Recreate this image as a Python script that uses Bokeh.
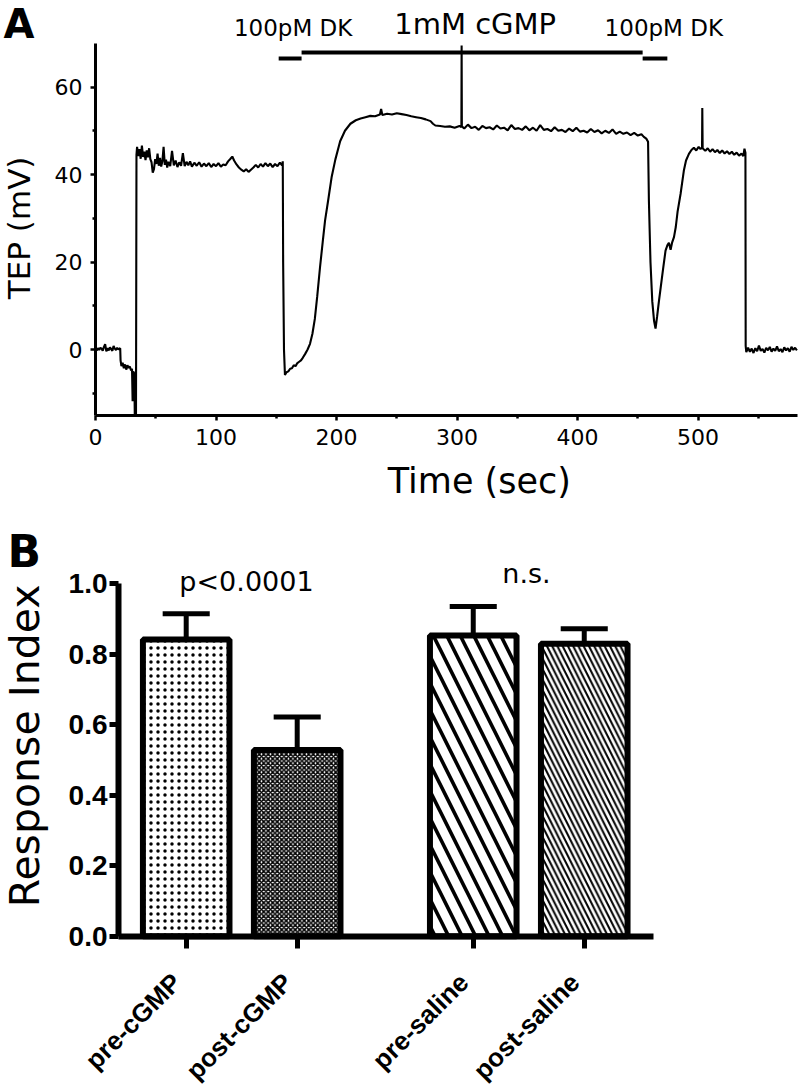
import math
from bokeh.plotting import figure
from bokeh.models import (FixedTicker, Label, Range1d, LinearAxis, PrintfTickFormatter)
from bokeh.embed import file_html
from bokeh.resources import INLINE

# ---------------- Panel A data ----------------
time_sec = [
    0, 1, 2, 3, 4, 5, 6, 7, 8, 9, 10, 11, 12, 13, 14, 15, 16, 17, 18, 19, 20,
    20.5, 20.8, 21.5, 22.5, 23.5, 24.5, 25.5, 26.5, 27.5, 28.5, 29.5, 30.3, 30.8, 31.3, 32.2, 32.6, 33.6,
    34.0, 34.5, 35.5, 36.5, 37.5, 38.5, 39.5, 40.5, 41.5, 42.5, 43.5, 44.5, 45.5, 46.5, 47.5, 48.5, 49.5,
    50.5, 51.5, 52.5, 53.5, 54.5, 55.5, 56.5, 57.5, 58.5, 59.5, 60.5, 62, 63.5, 65, 66.5, 68, 69.5, 71,
    72.5, 74, 75.5, 77, 78.5, 80, 82, 84, 86, 88, 90, 92, 94, 96, 98, 100, 102, 104, 106, 108, 110, 112,
    113.5, 115, 117, 119, 121, 123, 125, 127, 129, 131, 133, 135, 137, 139, 141, 143, 145, 147, 149, 151,
    153, 154.8, 155.4,
    155.7, 156.4, 157.2, 158.5, 160, 161.5, 163, 164.5, 166, 167.5, 169, 170.5, 172, 174, 176, 178, 180,
    182, 184, 186.3, 188.5, 190.5, 193, 196, 199, 203, 207, 211.5, 216, 220, 224, 228, 232, 236, 237, 238,
    242, 246, 250, 254, 258, 262, 266, 270, 274, 278, 280, 282, 286, 290, 294, 298, 302, 303.6, 303.8, 304.0,
    306, 309, 312, 315, 318, 321, 324, 327, 330, 333, 336, 339, 342, 345, 348, 351, 354, 357, 360, 363, 366,
    369, 372, 375, 378, 381, 384, 387, 390, 393, 396, 399, 402, 405, 408, 411, 414, 417, 420, 423, 426, 429,
    432, 435, 438, 441, 444, 447, 450, 453, 455, 457, 458.5,
    459.2, 460.5, 462, 463.5, 464.7, 466, 467.5, 469, 471, 473, 474.5, 475.8, 477.2, 478.5, 480, 481.5, 483,
    485.5, 488.2, 490, 492.4, 494.5, 496.5, 498.5, 500.5, 502, 503.3, 503.5, 503.8, 506, 508, 510, 512, 514,
    516, 518, 520, 522, 524, 526, 528, 530, 532, 534, 536, 537.5, 538.5, 539.3, 539.5,
    540, 541.5, 543, 544.5, 546, 547.5, 549, 550.5, 552, 553.5, 555, 556.5, 558, 559.5, 561, 562.5, 564,
    565.5, 567, 568.5, 570, 571.5, 573, 574.5, 576, 577.5, 579, 580.5, 582,
]
tep_mv = [
    0.1, -0.2, 0.3, -0.1, 0.4, 0.2, -0.3, 0.6, 1.2, -0.4, 0.3, -0.2, 0.5, 0.1, -0.3, 0.8, 0.2, -0.1, 0.4, 0.0, 0.2,
    0.3, -2.5, -3.8, -3.0, -4.3, -3.4, -4.6, -3.6, -4.2, -3.9, -4.8, -4.4, -11.8, -5.0, -5.5, -15, -15,
    44.5, 46.3, 44.2, 45.8, 43.6, 46.6, 44.0, 45.2, 43.3, 45.5, 43.9, 46.0, 43.5, 42.8, 40.4, 41.2, 43.5,
    42.4, 44.8, 42.0, 43.8, 41.8, 43.0, 46.3, 42.2, 43.4, 41.6, 42.9, 41.9, 45.4, 42.1, 43.2, 41.7, 42.8, 42.0,
    44.9, 41.9, 42.9, 42.1, 43.0, 41.8, 42.7, 42.0, 42.8, 41.8, 42.5, 41.9, 42.6, 41.7, 42.4, 41.9, 42.6, 41.8, 42.3, 42.1, 43.0, 43.6,
    44.1, 43.2, 42.3, 41.6, 41.1, 40.7, 41.2, 40.6, 41.1, 41.6, 42.2, 41.6, 42.4, 41.8, 42.6, 41.9, 42.5, 41.7, 42.4, 41.9,
    42.7, 42.1, 43.0,
    20, 0, -5.8, -5.2, -5.0, -4.4, -4.3, -3.6, -3.8, -3.1, -2.8, -2.5, -1.9, -1.0, 0.0, 1.3, 3.6,
    7.0, 12.2, 18.8, 24.5, 29.5, 34.0, 39.5, 43.4, 47.6, 50.0, 51.6, 52.4, 52.8, 53.1, 53.4, 53.3, 53.7, 55.0, 53.6,
    53.9, 53.7, 54.0, 53.8, 53.6, 53.3, 53.1, 52.9, 52.6, 52.2, 51.6, 51.2, 51.1, 50.9, 51.0, 50.7, 51.1, 50.8, 69.5, 51.0,
    50.5, 51.4, 50.6, 50.9, 50.2, 51.1, 50.6, 50.8, 50.3, 51.2, 50.5, 50.7, 50.1, 51.3, 50.4, 50.6, 50.2, 51.0, 50.1, 50.7, 50.0,
    51.3, 50.2, 50.4, 49.9, 50.8, 50.0, 50.2, 49.7, 50.5, 49.9, 50.7, 49.8, 50.0, 49.6, 50.4, 49.7, 50.1, 49.4, 50.0, 49.5, 50.3,
    49.3, 49.8, 49.3, 49.6, 49.0, 49.5, 48.9, 49.2, 48.6, 48.2, 47.5,
    34, 20, 11, 6.5, 4.8, 7.5, 11.0, 14.2, 18.5, 22.6, 23.8, 24.4, 22.8, 24.5, 25.7, 28.0, 31.5,
    35.6, 40.9, 43.2, 44.7, 45.6, 46.1, 45.5, 46.3, 45.8, 46.2, 55.2, 46.0, 45.4, 46.0, 45.2, 45.8, 45.1,
    45.6, 44.9, 45.5, 44.8, 45.3, 44.7, 45.2, 44.5, 45.0, 44.3, 44.8, 44.2, 45.9, 45.0, 0.8,
    -0.6, 0.4, -0.5, 0.2, -0.8, 0.3, -0.4, 0.9, -0.3, 0.1, -0.7, 0.4, -0.2, 0.6, -0.5, 0.2, -0.3,
    0.7, -0.4, 0.1, -0.6, 0.5, -0.2, 0.3, -0.5, 0.6, -0.1, 0.4, -0.2,
]
drug_names = ["100pM DK", "1mM cGMP", "100pM DK"]
drug_start = [152, 171, 454]
drug_end = [171, 454, 474.5]
drug_level = [66.5, 67.9, 66.5]
x_ticks_a = [0, 100, 200, 300, 400, 500]
x_minor_a = [50, 150, 250, 350, 450, 550]
y_ticks_a = [0, 20, 40, 60]
y_minor_a = [-10, 10, 30, 50]
x_bounds_a = (0, 582.5)
y_bounds_a = (-15, 70)

# ---------------- Panel B data ----------------
groups = ["pre-cGMP", "post-cGMP", "pre-saline", "post-saline"]
resp_mean = [0.842, 0.528, 0.853, 0.830]
resp_err = [0.073, 0.094, 0.082, 0.042]
y_ticks_b = [0.0, 0.2, 0.4, 0.6, 0.8, 1.0]
y_bounds_b = (0.0, 1.0)

REG = "DejaVu Sans"
BOLD = "Liberation Sans"
BASE_SHIFT = 0.33  # baseline correction, as a fraction of the font size

W, H = 800, 1089
ax_ppu = (797 - 95) / 582.5
ay_ppu = 87.5 / 20.0
xa_range = Range1d(-95 / ax_ppu, (W - 95) / ax_ppu)
ya_range = Range1d((349 - H) / ay_ppu, 349 / ay_ppu)
bx_ppu = 111.0
by_ppu = 352.5
xb_range = Range1d(1 - 185.7 / bx_ppu, 1 + (W - 185.7) / bx_ppu)
yb_range = Range1d(-(H - 935.7) / by_ppu, 935.7 / by_ppu)

p = figure(width=W, height=H, output_backend="svg", toolbar_location=None,
           x_range=xa_range, y_range=ya_range,
           min_border_left=0, min_border_right=0, min_border_top=0, min_border_bottom=0)
p.extra_x_ranges = {"bx": xb_range}
p.extra_y_ranges = {"by": yb_range}
p.outline_line_color = None
p.grid.visible = False
p.background_fill_color = "white"
p.border_fill_color = "white"


def add_text(x, y, text, size, font=REG, style="normal", align="center", angle=0.0,
             xppu=ax_ppu, yppu=ay_ppu, **kw):
    s = BASE_SHIFT * size
    dx = -s * math.sin(angle) / xppu
    dy = s * math.cos(angle) / yppu
    p.add_layout(Label(x=x + dx, y=y + dy, text=text, angle=angle, text_align=align,
                       text_baseline="alphabetic", text_font=font, text_font_style=style,
                       text_font_size=f"{size}px", text_color="black", **kw))


# ================= Panel A =================
p.line(time_sec, tep_mv, line_color="black", line_width=2.1)
p.segment(x0=drug_start, x1=drug_end, y0=drug_level, y1=drug_level,
          line_color="black", line_width=4)

xa = p.xaxis[0]
ya = p.yaxis[0]
xa.fixed_location = y_bounds_a[0]
ya.fixed_location = x_bounds_a[0]
xa.bounds = x_bounds_a
ya.bounds = y_bounds_a
for ax in (xa, ya):
    ax.axis_line_width = 3
    ax.axis_line_color = "black"
    ax.major_tick_in = 0
    ax.major_tick_out = 5
    ax.major_tick_line_width = 2.5
    ax.minor_tick_in = 0
    ax.minor_tick_out = 3
    ax.minor_tick_line_width = 2.5
    ax.major_label_text_font = REG
    ax.major_label_text_font_size = "22px"
    ax.major_label_text_color = "black"
xa.ticker = FixedTicker(ticks=x_ticks_a, minor_ticks=x_minor_a)
ya.ticker = FixedTicker(ticks=y_ticks_a, minor_ticks=y_minor_a)
xa.major_label_standoff = 9
ya.major_label_standoff = 8

drug_text_x = [164, 315, 471.6]
drug_text_y = [71.8, 72.2, 71.8]
drug_text_size = [23, 29, 23]
for name, tx, ty, fs in zip(drug_names, drug_text_x, drug_text_y, drug_text_size):
    add_text(tx, ty, name, fs)

add_text(318.5, -32.7, "Time (sec)", 35)
add_text(-54.8, 27.8, "TEP (mV)", 31, angle=math.pi / 2)
add_text(-76.3, 71.3, "A", 40, style="bold", align="left")

# ================= Panel B =================
unit_gap = 0.586
pos = [1.0, 2.0, 3.0 + unit_gap, 4.0 + unit_gap]
x_bounds_b = (1 - (185.7 - 118) / bx_ppu, 1 + (653 - 185.7) / bx_ppu)

hatches = [".", "x", "\\", "\\"]
hscale = [7.0, 4.5, 27.0, 10.5]
hweight = [1.0, 1.6, 3.6, 2.0]
for i in range(4):
    p.vbar(x=[pos[i]], top=[resp_mean[i]], bottom=0, width=0.78,
           fill_color="white", line_color="black", line_width=6,
           hatch_pattern=hatches[i], hatch_color="black",
           hatch_scale=hscale[i], hatch_weight=hweight[i],
           x_range_name="bx", y_range_name="by")

err_top = [m + e for m, e in zip(resp_mean, resp_err)]
p.segment(x0=pos, x1=pos, y0=resp_mean, y1=err_top, line_color="black", line_width=5,
          x_range_name="bx", y_range_name="by")
p.segment(x0=[q - 0.212 for q in pos], x1=[q + 0.212 for q in pos], y0=err_top, y1=err_top,
          line_color="black", line_width=5, x_range_name="bx", y_range_name="by")

xb = LinearAxis(x_range_name="bx", y_range_name="by")
yb = LinearAxis(x_range_name="bx", y_range_name="by")
p.add_layout(xb, "below")
p.add_layout(yb, "left")
xb.fixed_location = y_bounds_b[0]
yb.fixed_location = x_bounds_b[0]
xb.bounds = x_bounds_b
yb.bounds = y_bounds_b
for ax in (xb, yb):
    ax.axis_line_width = 6
    ax.axis_line_color = "black"
    ax.major_tick_in = 0
    ax.major_tick_line_width = 5
    ax.minor_tick_out = 0
    ax.minor_tick_in = 0
yb.major_tick_out = 9
xb.major_tick_out = 12
yb.ticker = FixedTicker(ticks=y_ticks_b, minor_ticks=[])
yb.formatter = PrintfTickFormatter(format="%.1f")
yb.major_label_text_font = BOLD
yb.major_label_text_font_style = "bold"
yb.major_label_text_font_size = "28px"
yb.major_label_text_color = "black"
yb.major_label_standoff = 2
xb.ticker = FixedTicker(ticks=pos, minor_ticks=[])
xb.major_label_overrides = {q: "" for q in pos}

for g, q in zip(groups, pos):
    p.add_layout(Label(x=q - 0.085, y=-0.118, text=g, angle=math.pi / 4, text_align="right",
                       text_baseline="middle", text_font=BOLD, text_font_style="bold",
                       text_font_size="26px", text_color="black",
                       x_range_name="bx", y_range_name="by"))

bkw = dict(xppu=bx_ppu, yppu=by_ppu, x_range_name="bx", y_range_name="by")
add_text(1.543, 0.981, "p<0.0001", 27, **bkw)
add_text(4.066, 1.003, "n.s.", 27, **bkw)
add_text(-0.331, 0.54, "Response Index", 41, angle=math.pi / 2, **bkw)
add_text(-0.61, 1.0515, "B", 44, style="bold", align="left", **bkw)

open("out.html", "w").write(file_html(p, INLINE))
